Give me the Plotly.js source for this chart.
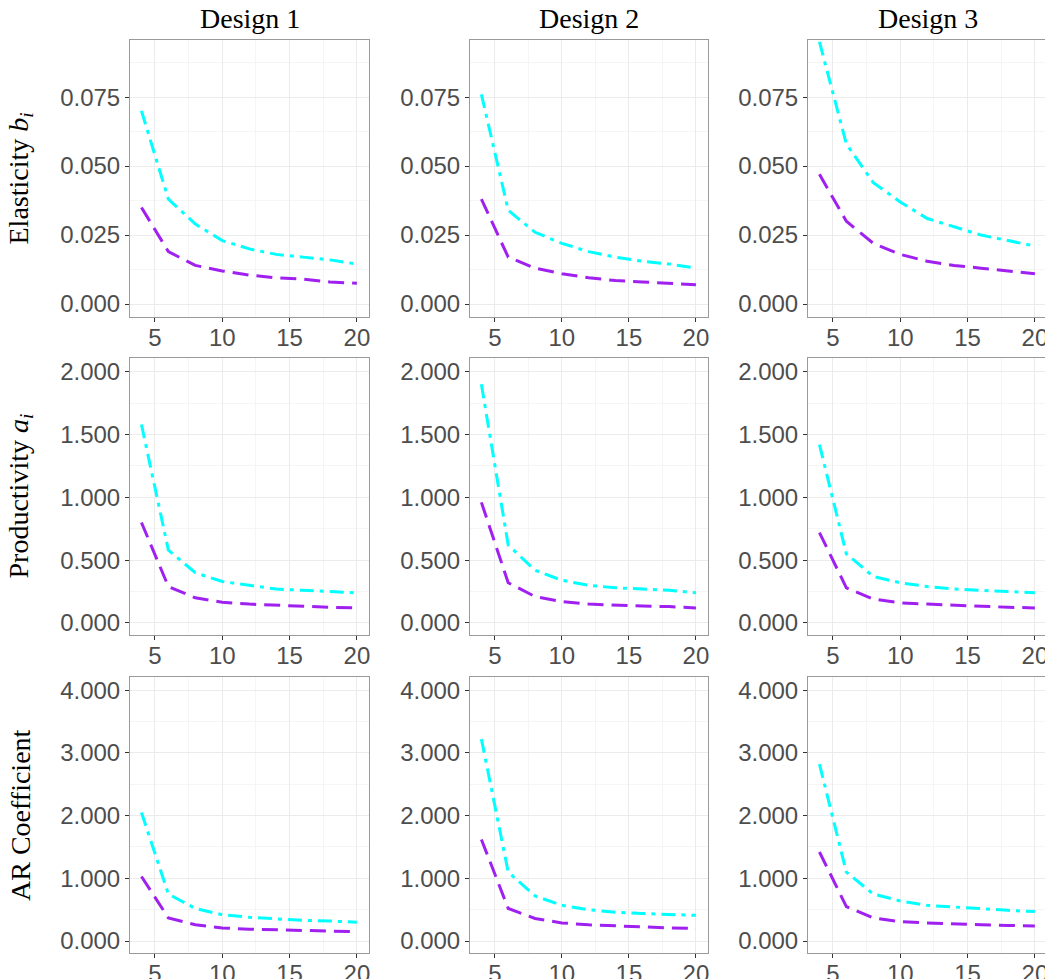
<!DOCTYPE html>
<html>
<head>
<meta charset="utf-8">
<script src="https://cdn.plot.ly/plotly-3.0.1.min.js"></script>
<style>body{margin:0;overflow:hidden;background:#fff}</style>
</head>
<body>
<div id="chart"></div>
<script>
// sample sizes on x axis
const nVals = [4, 6, 8, 10, 12, 14, 16, 18, 20];

// row 1: elasticity b_i
const elasCyan = [
  [0.070, 0.038, 0.029, 0.023, 0.020, 0.018, 0.017, 0.016, 0.0145],
  [0.076, 0.034, 0.026, 0.022, 0.019, 0.017, 0.0155, 0.0145, 0.013],
  [0.095, 0.058, 0.044, 0.037, 0.031, 0.028, 0.025, 0.023, 0.021]
];
const elasPurple = [
  [0.035, 0.019, 0.014, 0.012, 0.0105, 0.0095, 0.009, 0.008, 0.0075],
  [0.038, 0.017, 0.013, 0.011, 0.0095, 0.0085, 0.008, 0.0075, 0.007],
  [0.047, 0.030, 0.022, 0.018, 0.0155, 0.014, 0.013, 0.012, 0.011]
];
// row 2: productivity a_i
const prodCyan = [
  [1.58, 0.58, 0.40, 0.33, 0.30, 0.27, 0.26, 0.25, 0.24],
  [1.90, 0.62, 0.42, 0.34, 0.30, 0.28, 0.27, 0.26, 0.24],
  [1.42, 0.55, 0.37, 0.32, 0.29, 0.27, 0.26, 0.25, 0.24]
];
const prodPurple = [
  [0.80, 0.29, 0.20, 0.165, 0.15, 0.14, 0.13, 0.125, 0.12],
  [0.96, 0.32, 0.21, 0.17, 0.15, 0.14, 0.135, 0.13, 0.12],
  [0.72, 0.28, 0.19, 0.16, 0.15, 0.14, 0.13, 0.125, 0.12]
];
// row 3: AR coefficient
const arCyan = [
  [2.05, 0.75, 0.52, 0.42, 0.38, 0.35, 0.33, 0.32, 0.30],
  [3.22, 1.10, 0.72, 0.57, 0.50, 0.46, 0.44, 0.43, 0.41],
  [2.82, 1.10, 0.75, 0.64, 0.57, 0.54, 0.51, 0.49, 0.47]
];
const arPurple = [
  [1.03, 0.37, 0.26, 0.21, 0.19, 0.18, 0.17, 0.16, 0.15],
  [1.62, 0.52, 0.36, 0.29, 0.26, 0.24, 0.22, 0.21, 0.20],
  [1.42, 0.55, 0.37, 0.31, 0.29, 0.27, 0.26, 0.25, 0.24]
];

const colTitles = ['Design 1', 'Design 2', 'Design 3'];
const rowTitles = ['Elasticity <i>b<sub>i</sub></i>', 'Productivity <i>a<sub>i</sub></i>', 'AR Coefficient'];

const W = 1060, H = 979;
const colPx = [[130, 369], [470, 708], [808, 1047]];
const rowPx = [[40, 317], [358, 635], [677, 953]];
const yRanges = [[-0.0047, 0.0957], [-0.096, 2.11], [-0.19, 4.21]];
const yDticks = [0.025, 0.5, 1];

const rowsCyan = [elasCyan, prodCyan, arCyan];
const rowsPurple = [elasPurple, prodPurple, arPurple];

const traces = [];
const layout = {
  width: W, height: H,
  margin: {l: 0, r: 0, t: 0, b: 0},
  paper_bgcolor: '#fff', plot_bgcolor: '#fff',
  showlegend: false,
  font: {family: 'Liberation Sans, Arial, sans-serif', color: '#4d4d4d'},
  annotations: []
};

let k = 0;
for (let r = 0; r < 3; r++) {
  for (let c = 0; c < 3; c++) {
    k++;
    const xa = 'x' + (k === 1 ? '' : k), ya = 'y' + (k === 1 ? '' : k);
    traces.push({x: nVals, y: rowsCyan[r][c], xaxis: xa, yaxis: ya, mode: 'lines',
      line: {color: '#00FFFF', width: 3, dash: '14px,6px,4px,6px'}});
    traces.push({x: nVals, y: rowsPurple[r][c], xaxis: xa, yaxis: ya, mode: 'lines',
      line: {color: '#A020F0', width: 3, dash: '16px,8px'}});
    const common = {
      showline: true, mirror: true, linecolor: '#9a9a9a', linewidth: 1,
      ticks: 'outside', ticklen: 4, tickcolor: '#333',
      showgrid: true, gridcolor: '#ebebeb', zeroline: false,
      tickfont: {size: 24, color: '#4d4d4d'}
    };
    layout['xaxis' + (k === 1 ? '' : k)] = Object.assign({}, common, {
      domain: [colPx[c][0] / W, colPx[c][1] / W], anchor: ya,
      range: [3.15, 20.9], tickvals: [5, 10, 15, 20], ticklabelstandoff: -5,
      minor: {showgrid: true, gridcolor: '#f5f5f5', dtick: 2.5, tick0: 2.5}
    });
    layout['yaxis' + (k === 1 ? '' : k)] = Object.assign({}, common, {
      domain: [1 - rowPx[r][1] / H, 1 - rowPx[r][0] / H], anchor: xa,
      range: yRanges[r], dtick: yDticks[r], tick0: 0, tickformat: '.3f',
      minor: {showgrid: true, gridcolor: '#f5f5f5', dtick: yDticks[r] / 2, tick0: 0}
    });
  }
}

colTitles.forEach((t, c) => {
  layout.annotations.push({text: t, xref: 'paper', yref: 'paper',
    xanchor: 'center', yanchor: 'middle',
    x: (colPx[c][0] + colPx[c][1]) / 2 / W, y: 1 - 18 / H, showarrow: false,
    font: {family: 'Liberation Serif, DejaVu Serif, serif', size: 28, color: '#000'}});
});
rowTitles.forEach((t, r) => {
  layout.annotations.push({text: t, xref: 'paper', yref: 'paper', textangle: -90,
    xanchor: 'center', yanchor: 'middle',
    x: 20 / W, y: 1 - (rowPx[r][0] + rowPx[r][1]) / 2 / H, showarrow: false,
    font: {family: 'Liberation Serif, DejaVu Serif, serif', size: 28, color: '#000'}});
});

Plotly.newPlot('chart', traces, layout, {displayModeBar: false, staticPlot: true});
</script>
</body>
</html>
